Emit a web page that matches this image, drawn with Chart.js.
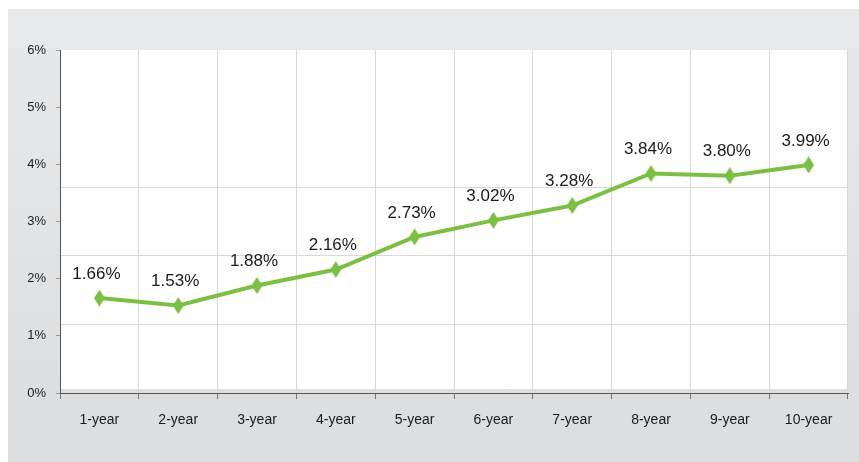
<!DOCTYPE html>
<html>
<head>
<meta charset="utf-8">
<script src="https://cdn.jsdelivr.net/npm/chart.js@4/dist/chart.umd.min.js"></script>
<style>
  html, body { margin: 0; padding: 0; background: #fff; }
  #panel {
    position: absolute; left: 8px; top: 9px; width: 851px; height: 453px;
    background: linear-gradient(#e8e9ea, #dcdddf);
    overflow: hidden;
  }
  canvas { display: block; }
</style>
</head>
<body>
<div id="panel"><canvas id="yieldChart" width="852" height="453"></canvas></div>
<script>
// data
const terms = ['1-year', '2-year', '3-year', '4-year', '5-year', '6-year', '7-year', '8-year', '9-year', '10-year'];
const yields = [1.66, 1.53, 1.88, 2.16, 2.73, 3.02, 3.28, 3.84, 3.80, 3.99];
const yTicks = [0, 1, 2, 3, 4, 5, 6];

const GREEN = '#7bc043';
const FONT = "'Liberation Sans', Arial, sans-serif";

// tall diamond marker
function diamond(w, h) {
  const c = document.createElement('canvas');
  c.width = w; c.height = h;
  const g = c.getContext('2d');
  g.fillStyle = GREEN;
  g.beginPath();
  g.moveTo(w / 2, 0);
  g.lineTo(w, h / 2);
  g.lineTo(w / 2, h);
  g.lineTo(0, h / 2);
  g.closePath();
  g.fill();
  return c;
}

const plotBg = {
  id: 'plotBg',
  beforeDraw(chart) {
    const a = chart.chartArea, ctx = chart.ctx;
    ctx.save();
    ctx.fillStyle = '#ffffff';
    ctx.fillRect(a.left, a.top, a.right - a.left, a.bottom - a.top - 4);
    ctx.restore();
  }
};

const valueLabels = {
  id: 'valueLabels',
  afterDatasetsDraw(chart) {
    const ctx = chart.ctx;
    const meta = chart.getDatasetMeta(0);
    ctx.save();
    ctx.font = '17px ' + FONT;
    ctx.fillStyle = '#1a1a1a';
    ctx.textAlign = 'center';
    ctx.textBaseline = 'middle';
    meta.data.forEach((pt, i) => {
      ctx.fillText(yields[i].toFixed(2) + '%', pt.x - 3, pt.y - 24);
    });
    ctx.restore();
  }
};

new Chart(document.getElementById('yieldChart'), {
  type: 'line',
  data: {
    labels: terms,
    datasets: [{
      data: yields,
      borderColor: GREEN,
      borderWidth: 4,
      pointStyle: diamond(11, 17),
      pointRadius: 8,
      pointHoverRadius: 8,
      tension: 0,
      fill: false
    }]
  },
  options: {
    responsive: false,
    animation: false,
    layout: { padding: { top: 41, right: 0, left: 0, bottom: 0 } },
    plugins: {
      legend: { display: false },
      tooltip: { enabled: false }
    },
    scales: {
      x: {
        offset: true,
        grid: { offset: true, color: '#d9d9d9', tickColor: '#777', tickLength: 6 },
        border: { color: '#555', width: 1 },
        ticks: { color: '#1a1a1a', font: { family: FONT, size: 14 }, padding: 13 },
        afterFit: axis => { axis.height = 69; }
      },
      y: {
        min: 0,
        max: 6,
        afterBuildTicks: axis => { axis.ticks = yTicks.map(v => ({ value: v })); },
        grid: { drawOnChartArea: false, tickColor: '#999', tickLength: 4 },
        border: { color: '#555', width: 1 },
        ticks: { color: '#1a1a1a', font: { family: FONT, size: 13 }, padding: 10, callback: v => v + '%' },
        afterFit: axis => { axis.width = 52; }
      },
      y2: {
        position: 'left',
        min: 0,
        max: 5,
        ticks: { display: false, stepSize: 1 },
        border: { display: false },
        grid: {
          drawTicks: false,
          color: c => (c.tick && c.tick.value >= 1 && c.tick.value <= 3) ? '#d9d9d9' : 'rgba(0,0,0,0)'
        },
        afterFit: axis => { axis.width = 0; }
      }
    }
  },
  plugins: [plotBg, valueLabels]
});
</script>
</body>
</html>
